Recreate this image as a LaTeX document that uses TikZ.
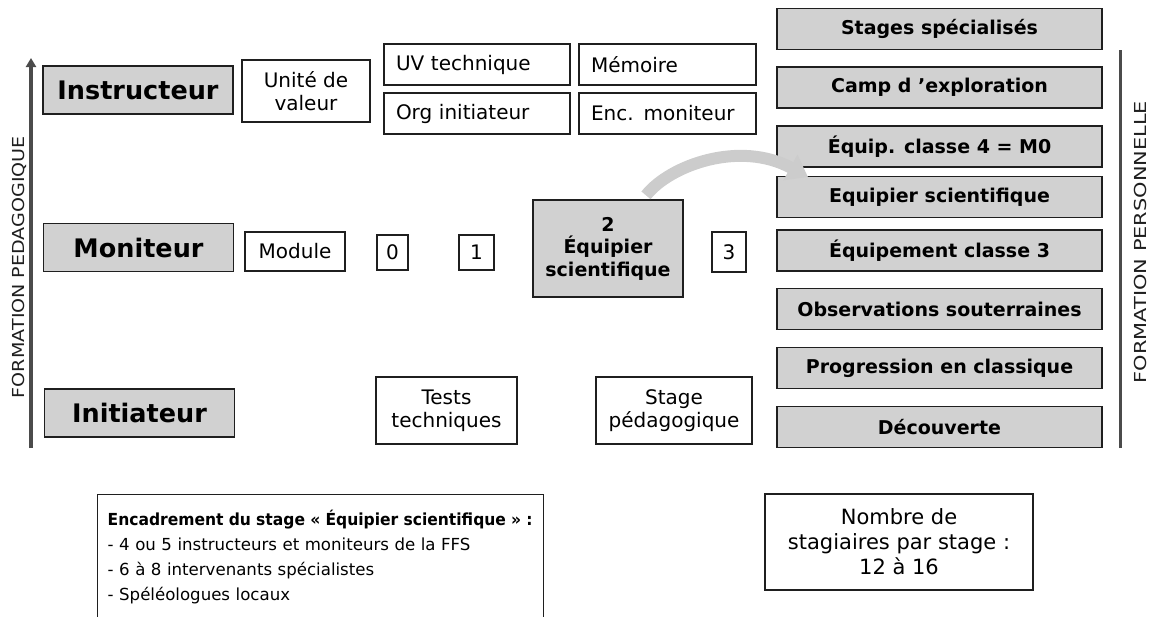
\documentclass[tikz,border=0pt]{standalone}
\usepackage{fontspec}
\setmainfont{DejaVu Sans}
\usetikzlibrary{arrows.meta}
\definecolor{shade}{gray}{0.82}
\definecolor{ink}{gray}{0.12}
\tikzset{
  box/.style={draw=ink, line width=1.3pt, inner sep=0pt, align=center, text=black},
  level/.style={box, fill=shade, minimum width=190pt, minimum height=48pt, font=\fontsize{25.5}{29}\selectfont\bfseries},
  perso/.style={box, fill=shade, minimum width=325pt, minimum height=41pt, font=\fontsize{19}{22}\selectfont\bfseries},
  small/.style={box, fill=white, font=\fontsize{20}{23}\selectfont},
  pair/.style={small, minimum width=186pt, minimum height=41pt, text width=162pt, align=left},
  sidelabel/.style={font=\fontsize{16.5}{19}\selectfont, text=ink, rotate=90}
}
\begin{document}
\begin{tikzpicture}[x=1pt,y=-1pt]
\useasboundingbox (0,0) rectangle (1153,616);
% left axis
\coordinate (pedlow) at (31,448);
\coordinate (pedhigh) at (31,58);
\draw[ink!80, line width=4pt, -{Triangle[width=10pt,length=9pt]}] (pedlow) -- (pedhigh);
\node[sidelabel] (pedlab) at (19,267) {\resizebox{262pt}{\height}{FORMATION PEDAGOGIQUE}};
% right axis
\coordinate (perlow) at (1120,448);
\coordinate (perhigh) at (1120,50);
\draw[ink!80, line width=3pt] (perlow) -- (perhigh);
\node[sidelabel] (perlab) at (1140,242) {\resizebox{282pt}{\height}{FORMATION PERSONNELLE}};

% levels
\node[level] (instr) at (138,90) {Instructeur};
\node[level] (monit) at (138.5,247.5) {Moniteur};
\node[level] (init) at (139.5,413) {Initiateur};

% instructeur row
\node[small, minimum width=128pt, minimum height=62pt] (unite) at (306,91) {Unité de\\valeur};
\node[pair] (uvt) at (477,64.5) {UV technique};
\node[pair, minimum width=177pt, text width=153pt] (memo) at (667.5,64.5) {Mémoire};
\node[pair] (orgi) at (477,113.5) {Org initiateur};
\node[pair, minimum width=177pt, text width=153pt] (encm) at (667.5,113.5) {Enc. moniteur};

% moniteur row
\node[small, minimum width=100pt, minimum height=39pt] (module) at (295,251.5) {Module};
\node[small, minimum width=31pt, minimum height=35pt] (zero) at (392.5,252.5) {0};
\node[small, minimum width=35pt, minimum height=35pt] (one) at (476.5,252.5) {1};
\node[small, minimum width=34pt, minimum height=40pt] (three) at (729,252) {3};

% right column
\node[perso] (spec) at (939.5,29) {Stages spécialisés};
\node[perso] (camp) at (939.5,87.5) {Camp d 'exploration};
\node[perso] (equip4) at (939.5,146.5) {Équip. classe 4 = M0};
\node[perso] (equips) at (939.5,197) {Equipier scientifique};
\node[perso] (equip3) at (939.5,250.5) {Équipement classe 3};
\node[perso] (obs) at (939.5,309) {Observations souterraines};
\node[perso] (prog) at (939.5,368) {Progression en classique};
\node[perso] (decou) at (939.5,427) {Découverte};

% central box and curved arrow
\coordinate (arrend) at (808,177);
\node[box, fill=shade, minimum width=150pt, minimum height=97pt, font=\fontsize{19}{22.5}\selectfont\bfseries] (two) at (608,248.5) {2\\Équipier\\scientifique};
\draw[gray!40, line width=12pt, -{Triangle[width=28pt,length=20pt]}]
  ([xshift=38pt,yshift=4pt]two.north) .. controls (670,165) and (740,140) .. (arrend);

% initiateur row
\node[small, minimum width=141pt, minimum height=67pt] (tests) at (446.5,410.5) {Tests\\techniques};
\node[small, minimum width=156pt, minimum height=67pt] (stageped) at (674,410.5) {Stage\\pédagogique};

% bottom notes
\node[box, anchor=north west, minimum width=446pt, minimum height=140pt, text width=426pt, align=left, inner sep=0pt, inner xsep=10pt, font=\fontsize{16.6}{25}\selectfont] (encad) at (97,494)
  {\rule{0pt}{10pt}\\[-4pt]\resizebox{425pt}{\height}{\textbf{Encadrement du stage « Équipier scientifique » :}}\\
   - 4 ou 5 instructeurs et moniteurs de la FFS\\
   - 6 à 8 intervenants spécialistes\\
   - Spéléologues locaux\\[30pt]\strut};
\node[box, minimum width=268pt, minimum height=96pt, font=\fontsize{21}{25}\selectfont] (nombre) at (899,542)
  {Nombre de\\stagiaires par stage :\\12 à 16};
\end{tikzpicture}
\end{document}
